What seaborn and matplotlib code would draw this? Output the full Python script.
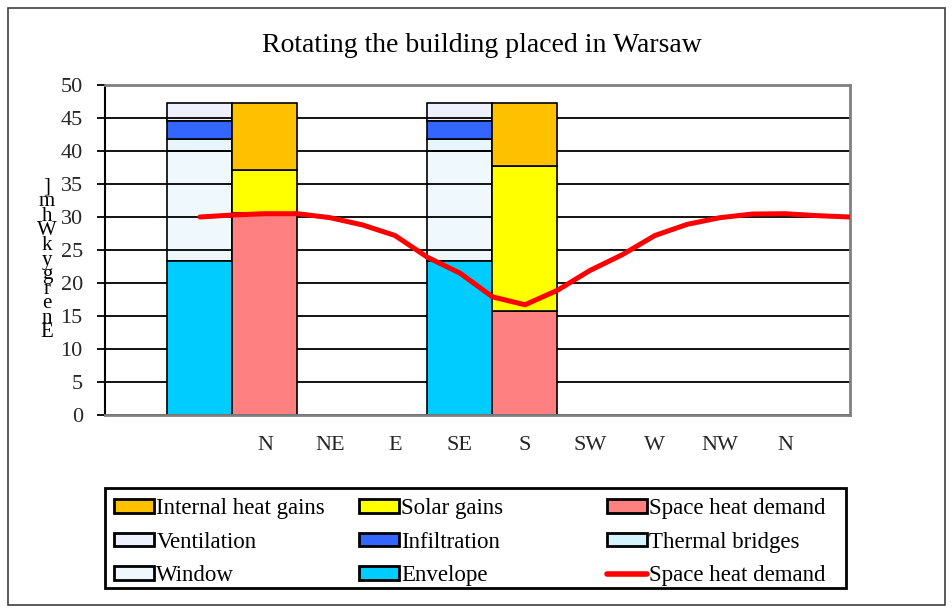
import matplotlib
matplotlib.use("Agg")
import matplotlib.pyplot as plt
import seaborn as sns
from matplotlib.patches import Patch, Rectangle
from matplotlib.lines import Line2D

# ---------------------------------------------------------------------------
# Data (kWh/m2)
# ---------------------------------------------------------------------------
orient_labels = ["N", "NE", "E", "SE", "S", "SW", "W", "NW", "N"]
orient_pos = [0, 1, 2, 3, 4, 5, 6, 7, 8]

loss_pos = [-1, 3]      # heat loss bars
gain_pos = [0, 4]       # heat gain bars (N and S)

envelope = [23.4, 23.4]
window = [16.6, 16.6]
thermal_bridges = [1.8, 1.8]
infiltration = [2.7, 2.7]
ventilation = [2.8, 2.8]

space_heat_bar = [30.6, 15.7]
solar_gains = [6.5, 22.0]
internal_gains = [10.2, 9.6]

line_pos = [-1, -0.5, 0, 0.5, 1, 1.5, 2, 2.5, 3, 3.5, 4,
            4.5, 5, 5.5, 6, 6.5, 7, 7.5, 8, 8.5, 9]
line_demand = [30.0, 30.3, 30.5, 30.5, 29.9, 28.8, 27.2, 23.9, 21.5, 17.9, 16.7,
               18.9, 21.9, 24.3, 27.2, 28.9, 29.9, 30.45, 30.5, 30.2, 30.0]

y_ticks = [0, 5, 10, 15, 20, 25, 30, 35, 40, 45, 50]

# colours
C_INTERNAL = "#FFC000"
C_SOLAR = "#FFFF00"
C_SHD = "#FF8080"
C_VENT = "#EEF1FD"
C_INFIL = "#3366FF"
C_TB = "#D4F3FC"
C_TB_BAR = "#E6F6FC"
C_WINDOW = "#EFF8FD"
C_ENV = "#00CCFF"
C_LINE = "#FF0000"

sns.set_theme(style="white")
plt.rcParams["font.family"] = ["Liberation Serif", "DejaVu Serif"]
plt.rcParams["text.color"] = "black"

fig = plt.figure(figsize=(9.52, 6.15), dpi=100)
fig.patch.set_facecolor("white")
ax = fig.add_axes([105 / 952, 1 - 415 / 615, 745 / 952, 330 / 615])
ax.set_facecolor("white")

# stacked bars
edge = dict(edgecolor="black", linewidth=1.2, width=1.0)
bottom = [0, 0]
for vals, col, z in [(envelope, C_ENV, 1), (window, C_WINDOW, 0.3),
                     (thermal_bridges, C_TB_BAR, 0.3), (infiltration, C_INFIL, 1),
                     (ventilation, C_VENT, 0.3)]:
    ax.bar(loss_pos, vals, bottom=bottom, color=col, zorder=z, **edge)
    bottom = [b + v for b, v in zip(bottom, vals)]

bottom = [0, 0]
for vals, col in [(space_heat_bar, C_SHD), (solar_gains, C_SOLAR),
                  (internal_gains, C_INTERNAL)]:
    ax.bar(gain_pos, vals, bottom=bottom, color=col, zorder=1, **edge)
    bottom = [b + v for b, v in zip(bottom, vals)]

# space heat demand line
sns.lineplot(x=line_pos, y=line_demand, ax=ax, color=C_LINE, linewidth=3.6,
             legend=False, zorder=4)

ax.set_xlim(-2.46, 9.0)
ax.set_ylim(0, 50)
ax.set_xticks(orient_pos)
ax.set_xticklabels(orient_labels)
ax.set_yticks(y_ticks)
ax.set_xlabel("")
ax.set_ylabel("")

ax.set_axisbelow(True)
ax.yaxis.grid(True, color="black", linewidth=1.3)
ax.xaxis.grid(False)

ax.tick_params(axis="x", length=0, pad=15, labelsize=16)
ax.tick_params(axis="y", direction="out", length=6, width=1.3, color="black",
               pad=10, labelsize=16, left=True)
for side in ["top", "right", "bottom"]:
    ax.spines[side].set_color("#808080")
    ax.spines[side].set_linewidth(2)
ax.spines["left"].set_color("black")
ax.spines["left"].set_linewidth(1.5)

# title and (stacked-letter) y label
fig.text(482 / 952, 1 - 45 / 615, "Rotating the building placed in Warsaw",
         ha="center", va="center", fontsize=20)
fig.text(47 / 952, 1 - 260 / 615, "\n".join(list("]mhWkygrenE")),
         ha="center", va="center", fontsize=15, linespacing=0.68)

# legend: three columns inside a framed box
columns = [
    [("Internal heat gains", C_INTERNAL), ("Ventilation", C_VENT), ("Window", C_WINDOW)],
    [("Solar gains", C_SOLAR), ("Infiltration", C_INFIL), ("Envelope", C_ENV)],
    [("Space heat demand", C_SHD), ("Thermal bridges", C_TB), ("Space heat demand", None)],
]
col_x = [114, 359, 607]
for cx, entries in zip(col_x, columns):
    handles, labels = [], []
    for lab, col in entries:
        if col is None:
            handles.append(Line2D([], [], color=C_LINE, linewidth=4))
        else:
            handles.append(Patch(facecolor=col, edgecolor="black", linewidth=2))
        labels.append(lab)
    fig.legend(handles, labels, loc="upper left",
               bbox_to_anchor=(cx / 952, 1 - 498 / 615), frameon=False,
               borderpad=0, borderaxespad=0, handlelength=1.75, handleheight=0.55,
               handletextpad=0.1, labelspacing=0.55, fontsize=16.5)

fig.add_artist(Rectangle((105 / 952, 1 - 588 / 615), 741 / 952, 100 / 615,
                         transform=fig.transFigure, fill=False,
                         edgecolor="black", linewidth=2))
fig.add_artist(Rectangle((8 / 952, 1 - 605 / 615), 937 / 952, 597 / 615,
                         transform=fig.transFigure, fill=False,
                         edgecolor="#404040", linewidth=1.2))

fig.savefig("out.png", dpi=100, facecolor="white")
